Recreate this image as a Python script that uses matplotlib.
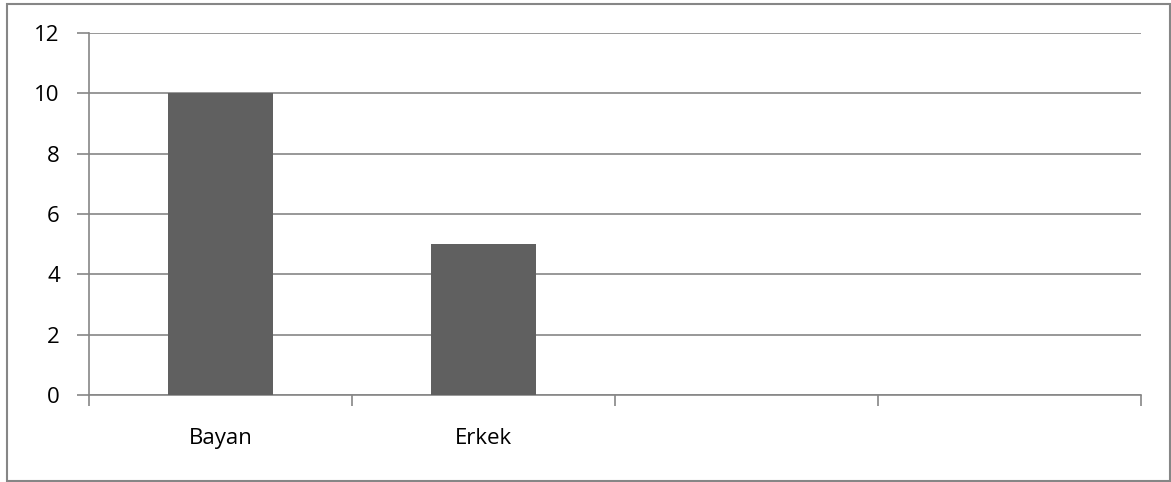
import matplotlib.pyplot as plt
from matplotlib.patches import Rectangle

# category slots on the x axis (the last two are empty)
categories = ["Bayan", "Erkek", "", ""]
counts = [10, 5]
y_ticks = [0, 2, 4, 6, 8, 10, 12]

grey = "#868686"
bar_color = "#606060"

plt.rcParams['font.family'] = ['Open Sans', 'DejaVu Sans']

W, H = 1171, 482
fig = plt.figure(figsize=(W / 100, H / 100), dpi=100)
ax = fig.add_axes([89 / W, 1 - 395 / H, (1141 - 89) / W, (395 - 33) / H])

x = range(len(counts))
ax.bar(x, counts, width=0.4, color=bar_color, zorder=3)

ax.set_xlim(-0.5, len(categories) - 0.5)
ax.set_ylim(0, 12)

ax.set_yticks(y_ticks)
ax.set_yticklabels([str(v) for v in y_ticks], fontsize=16)
ax.yaxis.grid(True, color=grey, linewidth=1.2, zorder=0)

# ticks sit on the category boundaries, labels in the middle
ax.set_xticks([i - 0.5 for i in range(len(categories) + 1)])
ax.set_xticklabels([])
ax.set_xticks(range(len(categories)), minor=True)
ax.set_xticklabels(categories, minor=True, fontsize=16)
ax.tick_params(axis='x', which='minor', length=0, pad=24)
ax.tick_params(axis='x', which='major', length=8, width=1.2, color=grey, direction='out')
ax.tick_params(axis='y', length=9, width=1.2, color=grey, direction='out', pad=12)

for s in ['top', 'right']:
    ax.spines[s].set_visible(False)
for s in ['left', 'bottom']:
    ax.spines[s].set_color(grey)
    ax.spines[s].set_linewidth(1.2)

# chart frame
fig.patches.append(Rectangle((7 / W, 1.5 / H), (1170 - 7) / W, (480 - 3) / H,
                             transform=fig.transFigure, fill=False,
                             edgecolor=grey, linewidth=1.5))

fig.savefig("out.png", dpi=100)
